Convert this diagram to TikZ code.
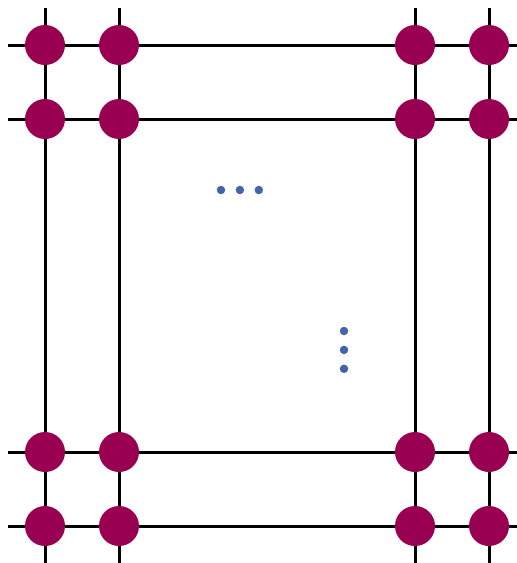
\documentclass[tikz,border=0pt]{standalone}
\usepackage{tikz}
\usetikzlibrary{positioning,calc}
\definecolor{sitec}{HTML}{990052}
\definecolor{dotc}{HTML}{4563A8}
\tikzset{
  site/.style={circle, fill=sitec, draw=none, minimum size=40, inner sep=0pt},
  bond/.style={line width=3, draw=black},
  ell/.style={circle, fill=dotc, draw=none, minimum size=8.5, inner sep=0pt},
}

\begin{document}
\begin{tikzpicture}[x=1pt, y=-1pt]
  \useasboundingbox (0,0) rectangle (517,563);
  % line ends
  \foreach \n/\p in {1/45, 2/119, 3/452, 4/526} {
    \coordinate (w\n) at (8,\p);
    \coordinate (e\n) at (517,\p);
  }
  \foreach \n/\p in {1/45, 2/119, 3/415, 4/489} {
    \coordinate (n\n) at (\p,8);
    \coordinate (s\n) at (\p,563);
  }
  \foreach \n in {1,...,4} {
    \draw[bond] (w\n) -- (e\n);
    \draw[bond] (n\n) -- (s\n);
  }
  % sites
  \foreach \i/\x in {1/45, 2/119, 3/415, 4/489} {
    \foreach \j/\y in {1/45, 2/119, 3/452, 4/526} {
      \node[site] (q\i\j) at (\x,\y) {};
    }
  }
  % ellipses
  \node[ell] (h1) at (221,190) {};
  \node[ell, right=10pt of h1] (h2) {};
  \node[ell, right=10pt of h2] (h3) {};
  \node[ell] (v1) at (344,331) {};
  \node[ell, below=10pt of v1] (v2) {};
  \node[ell, below=10pt of v2] (v3) {};
\end{tikzpicture}
\end{document}
